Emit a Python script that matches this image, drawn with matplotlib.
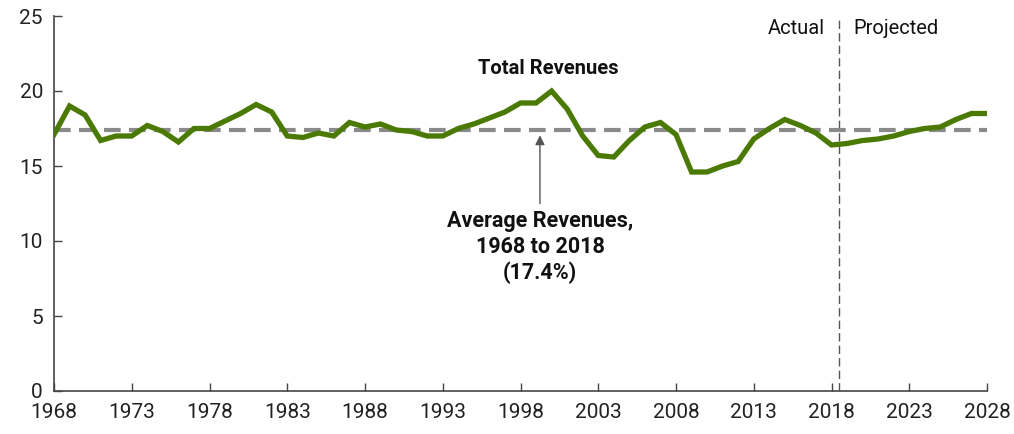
import matplotlib.pyplot as plt
from matplotlib import font_manager

years = list(range(1968, 2029))
revenues = [
    17.1, 19.0, 18.4, 16.7, 17.0, 17.0, 17.7, 17.3, 16.6, 17.5,
    17.5, 18.0, 18.5, 19.1, 18.6, 17.0, 16.9, 17.2, 17.0, 17.9,
    17.6, 17.8, 17.4, 17.3, 17.0, 17.0, 17.5, 17.8, 18.2, 18.6,
    19.2, 19.2, 20.0, 18.8, 17.0, 15.7, 15.6, 16.7, 17.6, 17.9,
    17.1, 14.6, 14.6, 15.0, 15.3, 16.8, 17.5, 18.1, 17.7, 17.2,
    16.4, 16.5, 16.7, 16.8, 17.0, 17.3, 17.5, 17.6, 18.1, 18.5,
    18.5,
]
average = 17.4
split_year = 2018.5
xticks = list(range(1968, 2029, 5))
yticks = [0, 5, 10, 15, 20, 25]

names = {f.name for f in font_manager.fontManager.ttflist}
family = "Liberation Sans Narrow" if "Liberation Sans Narrow" in names else "Roboto"
plt.rcParams["font.family"] = [family, "DejaVu Sans"]

fig = plt.figure(figsize=(10.14, 4.34), dpi=100)
ax = fig.add_axes([54 / 1014, 43 / 434, 933 / 1014, 375 / 434])

ax.axhline(average, color="#8a8a8a", lw=3.0, ls=(0, (4, 2)), zorder=2)
ax.axvline(split_year, color="#555555", lw=1.0, ls=(0, (6, 3)), zorder=1)
ax.plot(years, revenues, color="#4a7a04", lw=3.8, zorder=3,
        solid_joinstyle="miter")

ax.set_xlim(1968, 2028)
ax.set_ylim(0, 25)
ax.set_xticks(xticks)
ax.set_yticks(yticks)
ax.tick_params(direction="in", length=6, width=1, color="#444444",
               labelsize=15, labelcolor="#222222")
ax.tick_params(axis="x", pad=9)
ax.tick_params(axis="y", pad=8)
for s in ["top", "right"]:
    ax.spines[s].set_visible(False)
for s in ["left", "bottom"]:
    ax.spines[s].set_color("#444444")
    ax.spines[s].set_linewidth(1.2)

ax.text(1999.8, 21.5, "Total Revenues", ha="center", va="center",
        fontsize=14.5, fontweight="bold", color="#111111")

# arrow from the label up to the average line
ax.annotate("", xy=(1999.25, 17.05), xytext=(1999.25, 12.5),
            arrowprops=dict(arrowstyle="-|>", color="#555555", lw=1.0,
                            shrinkA=0, shrinkB=0, mutation_scale=14))
ax.text(1999.25, 9.6, "Average Revenues,\n1968 to 2018\n(17.4%)",
        ha="center", va="center", fontsize=15.5, fontweight="bold",
        color="#111111", linespacing=1.2)

ax.text(split_year - 0.9, 24.2, "Actual", ha="right", va="center",
        fontsize=14.5, color="#111111")
ax.text(split_year + 0.9, 24.2, "Projected", ha="left", va="center",
        fontsize=14.5, color="#111111")

fig.savefig("out.png", dpi=100)
